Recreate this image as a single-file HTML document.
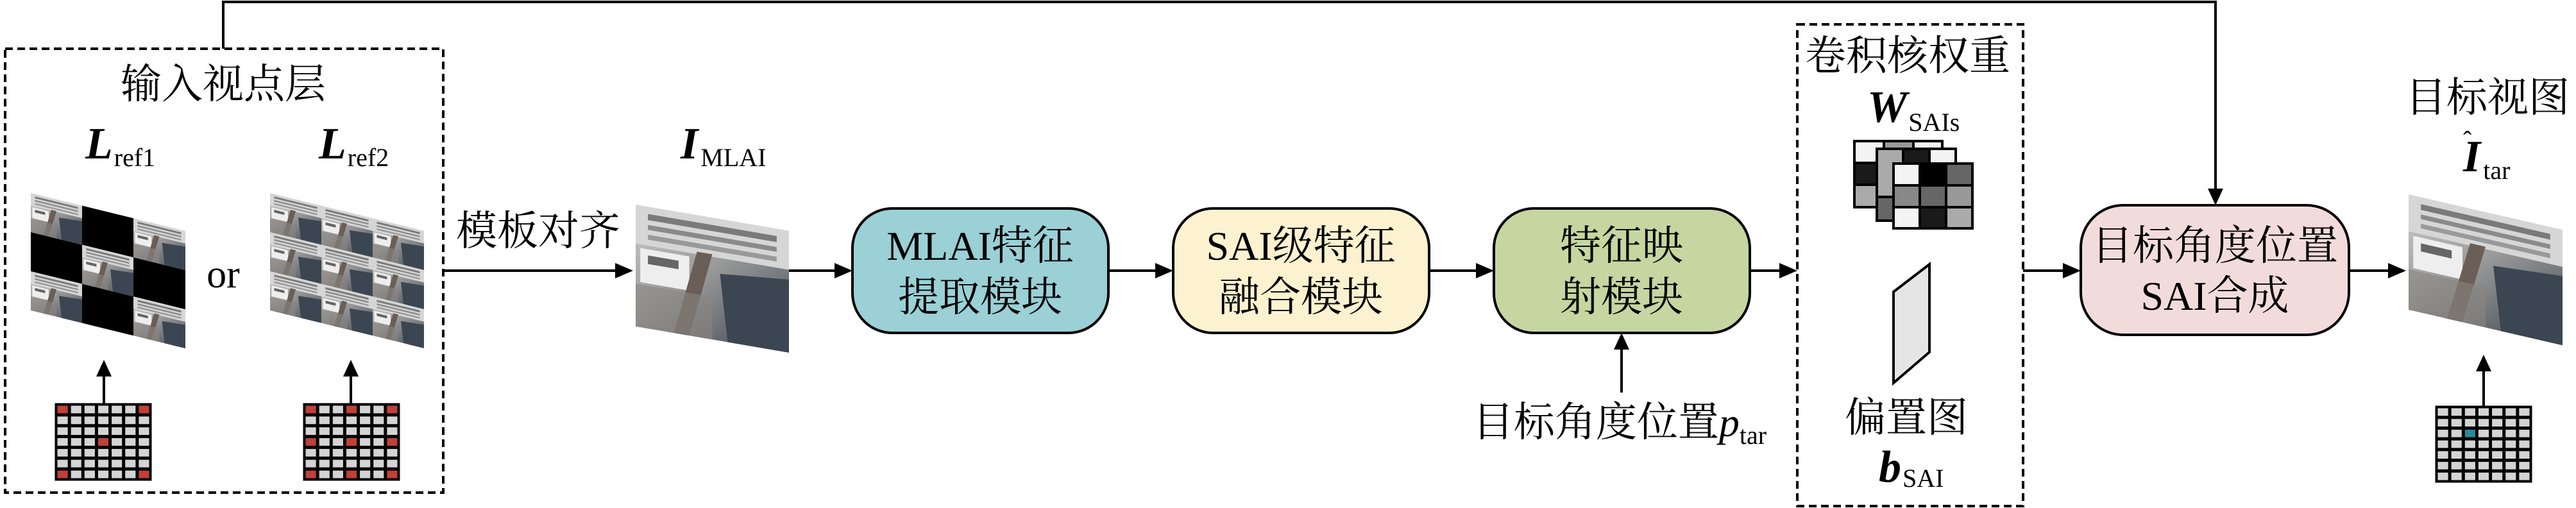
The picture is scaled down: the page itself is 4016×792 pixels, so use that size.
<!DOCTYPE html>
<html><head><meta charset="utf-8"><style>
html,body{margin:0;padding:0;background:#fff;}
svg{display:block;}
text{font-family:"Liberation Serif","Noto Serif CJK SC",serif;}
.cn{font-family:"Liberation Serif","Noto Serif CJK SC",serif;font-size:64px;fill:#000;}
.it{font-family:"Liberation Serif",serif;font-style:italic;font-weight:bold;font-size:70px;}
.sub{font-family:"Liberation Serif",serif;font-size:40px;}
</style></head><body>
<svg width="4016" height="792" viewBox="0 0 4016 792" xmlns="http://www.w3.org/2000/svg">
<defs>
<linearGradient id="pg" x1="0" y1="0" x2="1" y2="1">
<stop offset="0" stop-color="#cfcfcf"/><stop offset="0.45" stop-color="#9a9a9a"/><stop offset="1" stop-color="#3e4650"/>
</linearGradient>
<symbol id="photo" viewBox="0 0 100 100" preserveAspectRatio="none">
<rect width="100" height="100" fill="url(#pg)"/>
<rect x="0" y="0" width="100" height="32" fill="#d6d6d6"/>
<rect x="8" y="6" width="84" height="5" fill="#7a7a7a"/>
<rect x="8" y="15" width="84" height="4" fill="#8a8a8a"/>
<rect x="8" y="23" width="84" height="4" fill="#999"/>
<rect x="3" y="35" width="32" height="28" fill="#eeeeee"/>
<rect x="8" y="40" width="20" height="7" fill="#666"/>
<polygon points="55,45 100,40 100,100 60,100" fill="#3c4652"/>
<polygon points="40,30 50,30 35,100 25,100" fill="#6a5e56"/>
<rect x="0" y="65" width="50" height="35" fill="#8a8580" opacity="0.6"/>
</symbol>
</defs>
<g stroke="#000" stroke-width="4" fill="none">
<polyline points="348,76 348,3 3454,3 3454,300"/>
</g>
<rect x="8" y="76" width="683" height="692" fill="none" stroke="#000" stroke-width="4" stroke-dasharray="12,7"/>
<rect x="2802" y="38" width="352" height="751" fill="none" stroke="#000" stroke-width="4" stroke-dasharray="12,7"/>
<text class="cn" x="348" y="153" text-anchor="middle">输入视点层</text>
<text x="133" y="247"><tspan class="it">L</tspan><tspan class="sub" dx="2" dy="12">ref1</tspan></text>
<text x="497" y="247"><tspan class="it">L</tspan><tspan class="sub" dx="2" dy="12">ref2</tspan></text>
<g transform="translate(48,301) skewY(13.8)">
<use href="#photo" x="0" y="0" width="80" height="61"/>
<rect x="80" y="0" width="80" height="61" fill="#000"/>
<use href="#photo" x="160" y="0" width="81" height="61"/>
<rect x="0" y="61" width="80" height="61" fill="#000"/>
<use href="#photo" x="80" y="61" width="80" height="61"/>
<rect x="160" y="61" width="81" height="61" fill="#000"/>
<use href="#photo" x="0" y="122" width="80" height="61"/>
<rect x="80" y="122" width="80" height="61" fill="#000"/>
<use href="#photo" x="160" y="122" width="81" height="61"/>
</g>
<text x="348" y="448" text-anchor="middle" style="font-family:'Liberation Serif',serif;font-size:62px">or</text>
<g transform="translate(421,301) skewY(13.8)">
<use href="#photo" x="0" y="0" width="80" height="61"/><use href="#photo" x="80" y="0" width="80" height="61"/><use href="#photo" x="160" y="0" width="80" height="61"/>
<use href="#photo" x="0" y="61" width="80" height="61"/><use href="#photo" x="80" y="61" width="80" height="61"/><use href="#photo" x="160" y="61" width="80" height="61"/>
<use href="#photo" x="0" y="122" width="80" height="61"/><use href="#photo" x="80" y="122" width="80" height="61"/><use href="#photo" x="160" y="122" width="80" height="61"/>
</g>
<g stroke="#000" stroke-width="3">
<rect x="87" y="630" width="148" height="118" fill="#000"/>
<rect x="474" y="630" width="148" height="118" fill="#000"/>
<rect x="3798" y="634" width="148" height="117" fill="#000"/>
</g>
<g stroke="#000" stroke-width="4">
<line x1="162" y1="630" x2="162" y2="585"/>
<line x1="547" y1="630" x2="547" y2="585"/>
<line x1="3872" y1="633" x2="3872" y2="578"/>
<line x1="691" y1="422" x2="960" y2="422"/>
<line x1="1230" y1="422" x2="1302" y2="422"/>
<line x1="1728" y1="422" x2="1802" y2="422"/>
<line x1="2228" y1="422" x2="2302" y2="422"/>
<line x1="2728" y1="422" x2="2776" y2="422"/>
<line x1="3154" y1="422" x2="3218" y2="422"/>
<line x1="3662" y1="422" x2="3725" y2="422"/>
<line x1="2528" y1="612" x2="2528" y2="545"/>
</g>
<g fill="#000">
<polygon points="162,561 150,587 174,587"/>
<polygon points="547,561 535,587 559,587"/>
<polygon points="3872,553 3860,579 3884,579"/>
<polygon points="2528,519 2516,545 2540,545"/>
<polygon points="3454,320 3442,294 3466,294"/>
<polygon points="987,422 959,410 959,434"/>
<polygon points="1329,422 1301,410 1301,434"/>
<polygon points="1829,422 1801,410 1801,434"/>
<polygon points="2329,422 2301,410 2301,434"/>
<polygon points="2802,422 2774,410 2774,434"/>
<polygon points="3244,422 3216,410 3216,434"/>
<polygon points="3751,422 3723,410 3723,434"/>
</g>
<text class="cn" x="839" y="382" text-anchor="middle">模板对齐</text>
<text x="1061" y="247"><tspan class="it">I</tspan><tspan class="sub" dx="4" dy="12">MLAI</tspan></text>
<g transform="translate(991,319) skewY(9.7)"><use href="#photo" x="0" y="0" width="239" height="190"/></g>
<rect x="1329" y="325" width="399" height="194" rx="62" fill="#9ad0d6" stroke="#000" stroke-width="4"/>
<rect x="1829" y="325" width="399" height="194" rx="62" fill="#fdf2d0" stroke="#000" stroke-width="4"/>
<rect x="2329" y="325" width="399" height="194" rx="62" fill="#c5d6a0" stroke="#000" stroke-width="4"/>
<rect x="3244" y="320" width="418" height="202" rx="66" fill="#f2dcdb" stroke="#000" stroke-width="4"/>
<text class="cn" text-anchor="middle" x="1528" y="405">MLAI特征</text>
<text class="cn" text-anchor="middle" x="1528" y="485">提取模块</text>
<text class="cn" text-anchor="middle" x="2028" y="405">SAI级特征</text>
<text class="cn" text-anchor="middle" x="2028" y="485">融合模块</text>
<text class="cn" text-anchor="middle" x="2528" y="405">特征映</text>
<text class="cn" text-anchor="middle" x="2528" y="485">射模块</text>
<text class="cn" text-anchor="middle" x="3453" y="405">目标角度位置</text>
<text class="cn" text-anchor="middle" x="3453" y="483">SAI合成</text>
<text class="cn" text-anchor="middle" x="2525" y="680">目标角度位置<tspan style="font-family:'Liberation Serif',serif;font-style:italic">p</tspan><tspan class="sub" dy="12">tar</tspan></text>
<text class="cn" text-anchor="middle" x="2974" y="109">卷积核权重</text>
<text class="cn" text-anchor="middle" x="2972" y="673">偏置图</text>
<text class="cn" text-anchor="middle" x="3878" y="174">目标视图</text>
<text x="2911" y="190"><tspan class="it">W</tspan><tspan class="sub" dx="2" dy="14">SAIs</tspan></text>
<text x="2929" y="751"><tspan class="it">b</tspan><tspan class="sub" dx="2" dy="8">SAI</tspan></text>
<text x="3840" y="267"><tspan class="it">I</tspan><tspan class="sub" dx="4" dy="12">tar</tspan></text>
<text x="3840" y="232" style="font-family:'Liberation Serif',serif;font-size:40px">ˆ</text>
<g stroke="#000" stroke-width="4">
<g transform="translate(2891,220)">
<rect width="137" height="103" fill="#f4f4f4"/>
<rect x="0" y="34" width="46" height="34" fill="#1a1a1a"/><rect x="46" y="0" width="46" height="34" fill="#999"/><rect x="0" y="68" width="46" height="35" fill="#aaa"/>
</g>
<g transform="translate(2926,232)">
<rect width="123" height="112" fill="#aaa"/>
<rect x="41" y="0" width="41" height="37" fill="#1a1a1a"/><rect x="82" y="0" width="41" height="37" fill="#f4f4f4"/><rect x="0" y="75" width="41" height="37" fill="#666"/>
</g>
<g transform="translate(2952,255)">
<rect x="0" y="0" width="41" height="34" fill="#f4f4f4"/><rect x="41" y="0" width="41" height="34" fill="#000"/><rect x="82" y="0" width="41" height="34" fill="#666"/>
<rect x="0" y="34" width="41" height="34" fill="#888"/><rect x="41" y="34" width="41" height="34" fill="#666"/><rect x="82" y="34" width="41" height="34" fill="#999"/>
<rect x="0" y="68" width="41" height="33" fill="#f4f4f4"/><rect x="41" y="68" width="41" height="33" fill="#1a1a1a"/><rect x="82" y="68" width="41" height="33" fill="#aaa"/>
</g>
<polygon points="2952,455 3008,412 3008,549 2952,597" fill="#e5e5e5"/>
</g>
<g transform="translate(3755,303) skewY(13)"><use href="#photo" x="0" y="0" width="240" height="180"/></g>
<g id="c1"></g>
<script>
(function(){
var ns="http://www.w3.org/2000/svg",g=document.getElementById("c1");
function grid(x,y,w,h,red,col){var cw=w/7,ch=h/7;for(var r=0;r<7;r++)for(var c=0;c<7;c++){var e=document.createElementNS(ns,"rect");e.setAttribute("x",x+c*cw+2.5);e.setAttribute("y",y+r*ch+2.5);e.setAttribute("width",cw-5);e.setAttribute("height",ch-5);var k=r+","+c;e.setAttribute("fill",red.indexOf(k)>=0?col:"#d4d4d4");g.appendChild(e);}}
grid(87,630,148,118,["0,0","0,6","3,3","6,0","6,6"],"#c0403a");
grid(474,630,148,118,["0,0","0,3","0,6","3,0","3,3","3,6","6,0","6,3","6,6"],"#c0403a");
grid(3798,634,148,117,["2,2"],"#2e8a9a");
})();
</script>
</svg>
</body></html>
